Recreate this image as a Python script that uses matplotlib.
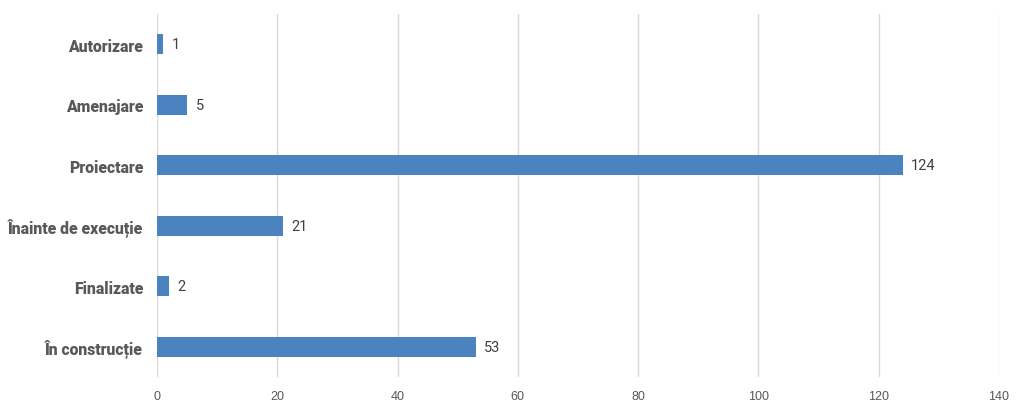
import matplotlib
matplotlib.use("Agg")
import matplotlib.pyplot as plt
from matplotlib import font_manager

categories = ["În construcție", "Finalizate", "Înainte de execuție",
              "Proiectare", "Amenajare", "Autorizare"]
values = [53, 2, 21, 124, 5, 1]
xticks = [0, 20, 40, 60, 80, 100, 120, 140]

names = {f.name for f in font_manager.fontManager.ttflist}
narrow = "Liberation Sans Narrow" if "Liberation Sans Narrow" in names else "Roboto"

fig = plt.figure(figsize=(10.24, 4.1), dpi=100)
ax = fig.add_axes([0.1533, 0.078, 0.8223, 0.885])

y = range(len(categories))
ax.barh(y, values, height=0.33, color="#4a83c0", zorder=3)
for yi, v in zip(y, values):
    ax.text(v + 1.4, yi, str(v), va="center", ha="left", fontsize=10.5,
            color="#404040", family=narrow)

ax.set_xlim(0, 140)
ax.set_ylim(-0.5, len(categories) - 0.5)
ax.set_xticks(xticks)
ax.set_xticklabels([str(t) for t in xticks], fontsize=9, color="#595959",
                   family="Liberation Sans")
ax.set_yticks(list(y))
ax.set_yticklabels(categories, fontsize=11.3, fontweight="heavy",
                   color="#595959", family=narrow)
ax.tick_params(axis="x", length=0, pad=9)
ax.tick_params(axis="y", length=0, pad=10)
ax.grid(axis="x", color="#dadada", linewidth=1, zorder=0)
for s in ax.spines.values():
    s.set_visible(False)

fig.savefig("out.png", dpi=100, facecolor="white")
